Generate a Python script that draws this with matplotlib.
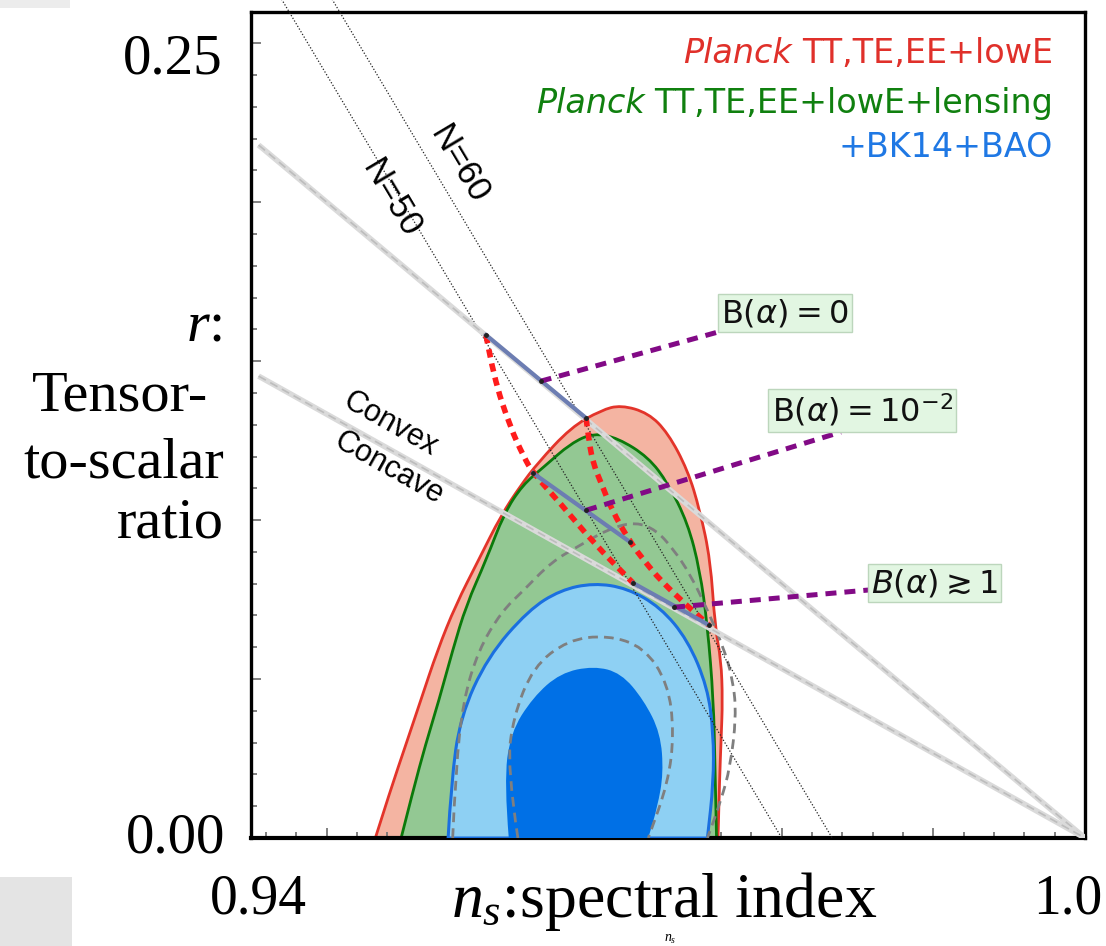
import numpy as np
import matplotlib.pyplot as plt
from matplotlib.patches import Rectangle, PathPatch
from matplotlib.path import Path
from matplotlib.ticker import MultipleLocator

plt.rcParams['mathtext.fontset'] = 'custom'
plt.rcParams['mathtext.rm'] = 'Liberation Serif'
plt.rcParams['mathtext.it'] = 'Liberation Serif:italic'

# --- contour outlines (n_s, r) ---
red_ns = [0.9532, 0.9542, 0.9552, 0.9562, 0.9573, 0.9585, 0.9600, 0.9615, 0.9628, 0.9639, 0.9661, 0.9681,
          0.9694, 0.9712, 0.9725, 0.9738, 0.9746, 0.9753, 0.9756, 0.9760, 0.9761, 0.9760, 0.9759, 0.9758]
red_r = [0.0, 0.0151, 0.0292, 0.0434, 0.0591, 0.0733, 0.0874, 0.1016, 0.1110, 0.1179, 0.1292, 0.1346,
         0.1362, 0.1337, 0.1274, 0.1157, 0.1031, 0.0874, 0.0664, 0.0560, 0.0434, 0.0308, 0.0182, 0.0]

green_ns = [0.9549, 0.9557, 0.9565, 0.9574, 0.9583, 0.9592, 0.9605, 0.9617, 0.9629, 0.9643, 0.9661,
            0.9676, 0.9692, 0.9712, 0.9725, 0.9738, 0.9746, 0.9751, 0.9755, 0.9756, 0.9757]
green_r = [0.0, 0.0151, 0.0292, 0.0434, 0.0591, 0.0733, 0.0874, 0.1022, 0.1110, 0.1167, 0.1242,
           0.1274, 0.1258, 0.1198, 0.1116, 0.0991, 0.0843, 0.0670, 0.0434, 0.0223, 0.0]

blue95_ns = [0.9580, 0.9582, 0.9588, 0.9606, 0.9633, 0.9654, 0.9676, 0.9698, 0.9720, 0.9738, 0.9751,
             0.9755, 0.9755, 0.9751]
blue95_r = [0.0, 0.0173, 0.0381, 0.0569, 0.0717, 0.0780, 0.0802, 0.0786, 0.0726, 0.0623, 0.0475,
            0.0330, 0.0173, 0.0]

blue68_ns = [0.9620, 0.9617, 0.9621, 0.9636, 0.9654, 0.9676, 0.9694, 0.9709, 0.9720, 0.9722, 0.9718, 0.9712]
blue68_r = [0.0, 0.0173, 0.0330, 0.0443, 0.0519, 0.0541, 0.0519, 0.0434, 0.0330, 0.0204, 0.0097, 0.0]

gray95_ns = [0.9583, 0.9585, 0.9590, 0.9600, 0.9615, 0.9630, 0.9648, 0.9667, 0.9687, 0.9704, 0.9717,
             0.9728, 0.9740, 0.9751, 0.9761, 0.9768, 0.9770, 0.9766, 0.9760, 0.9751]
gray95_r = [0.0, 0.0214, 0.0434, 0.0591, 0.0711, 0.0780, 0.0868, 0.0921, 0.0975, 0.0994, 0.0969,
            0.0912, 0.0827, 0.0717, 0.0607, 0.0497, 0.0381, 0.0223, 0.0119, 0.0]

gray68_ns = [0.9626, 0.9619, 0.9623, 0.9636, 0.9659, 0.9685, 0.9709, 0.9725, 0.9729, 0.9725, 0.9712]
gray68_r = [0.0, 0.0223, 0.0381, 0.0538, 0.0623, 0.0638, 0.0601, 0.0487, 0.0330, 0.0173, 0.0]

# model lines
n50_ns, n50_r = [0.94625, 0.98], [0.27, 0.0]
n60_ns, n60_r = [0.94958, 0.98333], [0.27, 0.0]
phi2_ns, phi2_r = [0.9455, 1.0], [0.218, 0.0]
convex_ns, convex_r = [0.9455, 1.0], [0.1453, 0.0]

# red dashed tracks (N=50 and N=60)
trackA_ns = [0.9605, 0.9610, 0.9621, 0.9630, 0.9636, 0.9654, 0.9676, 0.9702]
trackA_r = [0.1582, 0.1450, 0.1292, 0.1198, 0.1148, 0.1053, 0.0928, 0.0802]
trackB_ns = [0.9671, 0.9673, 0.9676, 0.9681, 0.9688, 0.9700, 0.9710, 0.9720, 0.9737, 0.9752]
trackB_r = [0.1321, 0.1242, 0.1173, 0.1116, 0.1031, 0.0931, 0.0868, 0.0811, 0.0733, 0.0670]

# B(alpha) segments
seg_ns = [[0.9605, 0.9671], [0.9636, 0.9700], [0.9702, 0.9752]]
seg_r = [[0.1582, 0.1321], [0.1148, 0.0931], [0.0802, 0.0670]]
ptr_ns = [[0.9641, 0.9762], [0.9671, 0.9839], [0.9729, 0.9857]]
ptr_r = [[0.1437, 0.1597], [0.1031, 0.1277], [0.0726, 0.0780]]
blabels = [r'$\mathrm{B}(\alpha) = 0$', r'$\mathrm{B}(\alpha) = 10^{-2}$', r'$B(\alpha) \gtrsim 1$']
blabel_ns = [0.9802, 0.9853, 0.9901]
blabel_r = [0.1651, 0.1346, 0.0802]

W, H = 1106, 946
fig = plt.figure(figsize=(W / 100, H / 100), dpi=100)
ax = fig.add_axes([251 / W, 1 - 838 / H, (1085 - 251) / W, (838 - 11.5) / H])
ax.set_xlim(0.945, 1.0)
ax.set_ylim(0, 0.26)


def fpos(x, y):
    return x / W, 1 - y / H


def screen_angle(xs, ys):
    (x0, y0), (x1, y1) = ax.transData.transform(np.column_stack([xs, ys]))
    return np.degrees(np.arctan2(y1 - y0, x1 - x0))


def smooth_path(xs, ys, close=False):
    # quadratic b-spline through the read points, ends kept fixed
    pts = np.column_stack([xs, ys])
    verts, codes = [pts[0]], [Path.MOVETO]
    for i in range(1, len(pts) - 1):
        verts += [pts[i], (pts[i] + pts[i + 1]) / 2]
        codes += [Path.CURVE3, Path.CURVE3]
    verts.append(pts[-1])
    codes.append(Path.LINETO)
    if close:
        verts.append(pts[0])
        codes.append(Path.CLOSEPOLY)
    return Path(verts, codes)


def region(xs, ys, fc, ec, lw, z):
    ax.add_patch(PathPatch(smooth_path(xs, ys, True), fc=fc, ec=ec, lw=lw, zorder=z))


def curve(xs, ys, **kw):
    ax.add_patch(PathPatch(smooth_path(xs, ys), fill=False, **kw))


# filled contours
region(red_ns, red_r, '#f4b4a2', '#e3342a', 2, 1)
region(green_ns, green_r, '#93c893', '#0b7a0b', 2, 2)
region(blue95_ns, blue95_r, '#8ed0f3', '#1a6fe0', 2.2, 3)
region(blue68_ns, blue68_r, '#0070e6', 'none', 0, 3)
curve(gray95_ns, gray95_r, ec='#7f7f7f', lw=2, ls=(0, (3.5, 2.2)), zorder=4)
curve(gray68_ns, gray68_r, ec='#7f7f7f', lw=2, ls=(0, (3.5, 2.2)), zorder=4)

# N lines (run past the top of the frame)
for xs, ys in [(n50_ns, n50_r), (n60_ns, n60_r)]:
    ax.plot(xs, ys, color='#222222', lw=0.9, ls=(0, (1, 1.5)), zorder=5, clip_on=False)

# phi^2 and convex/concave lines
for xs, ys in [(phi2_ns, phi2_r), (convex_ns, convex_r)]:
    ax.plot(xs, ys, color='#dadada', lw=4, zorder=5, solid_capstyle='butt')
    ax.plot(xs, ys, color='#bdbdbd', lw=1.2, ls=(0, (5, 3)), zorder=5)

# red dashed tracks
curve(trackA_ns, trackA_r, ec='#ff1c1c', lw=4, ls=(0, (1.5, 1.1)), zorder=6)
curve(trackB_ns, trackB_r, ec='#ff1c1c', lw=4, ls=(0, (1.5, 1.1)), zorder=6)

for xs, ys in zip(seg_ns, seg_r):
    ax.plot(xs, ys, color='#6c7db2', lw=3, zorder=7, marker='o', ms=2.5, mfc='#222222', mec='#222222')

for xs, ys, lab, lx, ly in zip(ptr_ns, ptr_r, blabels, blabel_ns, blabel_r):
    ax.plot(xs, ys, color='#820a86', lw=3.6, ls=(0, (2.2, 1.6)), zorder=8)
    ax.plot(xs[0], ys[0], 'o', color='#222222', ms=2.5, zorder=8)
    ax.text(lx, ly, lab, fontsize=23, math_fontfamily='dejavusans', ha='center', va='center', zorder=9,
            color='#111111',
            bbox=dict(boxstyle='square,pad=0.1', fc='#e2f6e2', ec='#bcd6bc', lw=1))

# rotated labels
a_n = screen_angle(n50_ns, n50_r)
ax.text(0.95422, 0.2013, 'N=50', rotation=a_n, rotation_mode='anchor', ha='center', va='center',
        fontsize=25, family='Liberation Sans', zorder=9)
ax.text(0.95870, 0.2119, 'N=60', rotation=a_n, rotation_mode='anchor', ha='center', va='center',
        fontsize=25, family='Liberation Sans', zorder=9)
a_c = screen_angle(convex_ns, convex_r)
ax.text(0.95422, 0.1302, 'Convex', rotation=a_c, rotation_mode='anchor', ha='center', va='center',
        fontsize=22, family='Liberation Sans', zorder=9)
ax.text(0.95409, 0.1164, 'Concave', rotation=a_c, rotation_mode='anchor', ha='center', va='center',
        fontsize=22, family='Liberation Sans', zorder=9)

# legend text
leg = [('TT,TE,EE+lowE', '#e0302a', 63, True),
       ('TT,TE,EE+lowE+lensing', '#10800f', 113, True),
       ('+BK14+BAO', '#1f78e4', 157, False)]
for txt, col, yb, planck in leg:
    t = fig.text(*fpos(1053, yb), txt, ha='right', va='baseline', color=col, fontsize=24, zorder=10)
    if planck:
        ax.annotate('Planck', xy=(0, 0), xycoords=t, xytext=(-7, 0), textcoords='offset points',
                    ha='right', va='bottom', color=col, fontsize=24, style='italic', zorder=10)

# ticks and frame
ax.xaxis.set_major_locator(MultipleLocator(0.01))
ax.xaxis.set_minor_locator(MultipleLocator(0.002))
ax.yaxis.set_major_locator(MultipleLocator(0.05))
ax.yaxis.set_minor_locator(MultipleLocator(0.01))
ax.tick_params(which='both', direction='in', top=False, right=False, labelbottom=False, labelleft=False,
               color='#777777', width=1.3)
ax.tick_params(which='major', length=7)
ax.tick_params(which='minor', length=4)
for side in ['left', 'top', 'right']:
    ax.spines[side].set_linewidth(2.4)
ax.spines['bottom'].set_linewidth(3)

# big serif labels
serif = dict(family='Liberation Serif', color='black', math_fontfamily='custom')
fig.text(*fpos(223, 73), '0.25', ha='right', va='baseline', fontsize=41, **serif)
fig.text(*fpos(225, 852), '0.00', ha='right', va='baseline', fontsize=41, **serif)
fig.text(*fpos(222, 340), '$r$:', ha='right', va='baseline', fontsize=42, **serif)
fig.text(*fpos(208, 410), 'Tensor-', ha='right', va='baseline', fontsize=42, **serif)
fig.text(*fpos(224, 477), 'to-scalar', ha='right', va='baseline', fontsize=42, **serif)
fig.text(*fpos(224, 538), 'ratio', ha='right', va='baseline', fontsize=42, **serif)
fig.text(*fpos(258, 913), '0.94', ha='center', va='baseline', fontsize=40, **serif)
fig.text(*fpos(1068, 913), '1.0', ha='center', va='baseline', fontsize=40, **serif)
fig.text(*fpos(664, 917), '$n_s$:spectral index', ha='center', va='baseline', fontsize=46, **serif)
fig.text(*fpos(670, 946), '$n_s$', ha='center', va='bottom', fontsize=10, **serif)

# scan artefacts at the left edge
fig.add_artist(Rectangle((0, 1 - 8 / H), 70 / W, 8 / H, transform=fig.transFigure, fc='#ececec', ec='none'))
fig.add_artist(Rectangle((0, 0), 72 / W, 69 / H, transform=fig.transFigure, fc='#e4e4e4', ec='none'))

fig.savefig('out.png', dpi=100)
